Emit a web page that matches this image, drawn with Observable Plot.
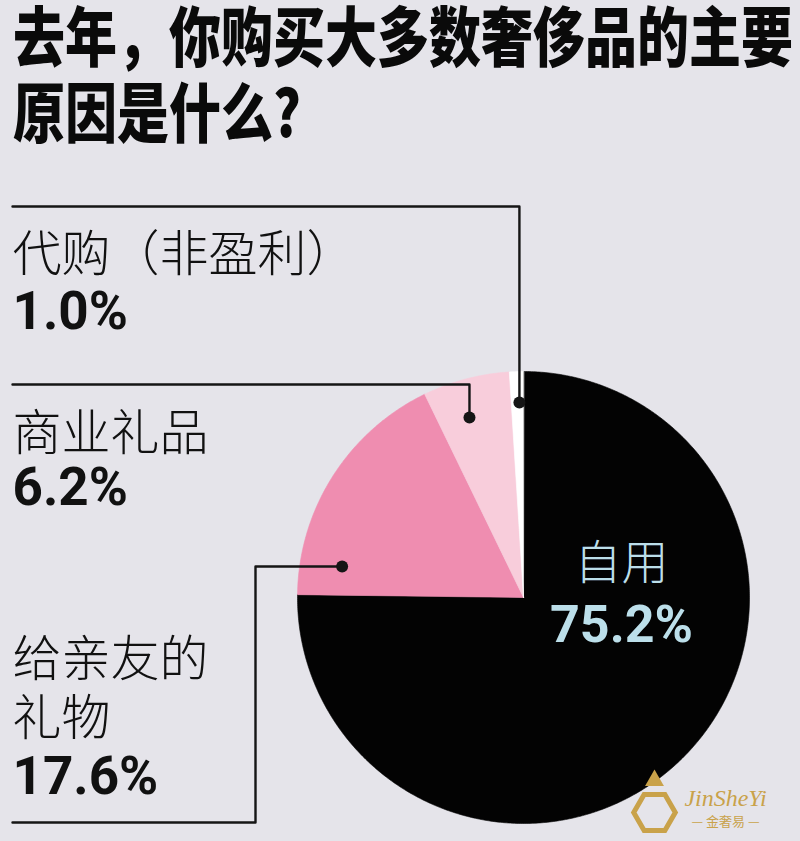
<!DOCTYPE html>
<html>
<head>
<meta charset="utf-8">
<script src="https://cdn.jsdelivr.net/npm/d3@7"></script>
<script src="https://cdn.jsdelivr.net/npm/@observablehq/plot@0.6"></script>
<style>
  html, body { margin: 0; padding: 0; background: #e5e4ea; }
  #wrap { width: 800px; height: 841px; overflow: hidden; background: #e5e4ea; }
  #title { position: relative; width: 800px; height: 150px; }
  #title div {
    position: absolute; left: 13px; white-space: nowrap;
    font-family: "Noto Sans CJK SC", sans-serif; font-weight: 900;
    font-size: 52px; line-height: 52px; color: #0a0a0a;
    transform: scaleY(1.24); transform-origin: 0 50%;
  }
  svg { display: block; }
</style>
</head>
<body>
<div id="wrap">
  <div id="title"><div id="t1"></div><div id="t2"></div></div>
  <div id="chart"></div>
</div>
<script>
// ---- data ----
const titleLines = ["去年，你购买大多数奢侈品的主要", "原因是什么?"];
const categories = ["自用", "给亲友的礼物", "商业礼品", "代购（非盈利）"];
const shares = [75.2, 17.6, 6.2, 1.0];
const sliceColors = ["#030303", "#ef8db0", "#f8cddb", "#ffffff"];
const labelNames = [["自用"], ["给亲友的", "礼物"], ["商业礼品"], ["代购（非盈利）"]];
const watermark = ["JinSheYi", "— 金奢易 —"];

// ---- layout (page pixel coordinates) ----
const W = 800, H = 841, TOP = 150;
const cx = 523, cy = 597, R = 226;
const labelLayout = [
  {inside: true, x: 621, nameY: [563], valueY: 625},
  {x: 12, nameY: [660, 719], valueY: 777},
  {x: 12, nameY: [434], valueY: 488},
  {x: 12, nameY: [255], valueY: 312}
];
const callouts = [
  null,
  {angle: 279.7, r: 184, elbowX: 255, baseY: 822},
  {angle: 343.3, r: 188, lineY: 384},
  {angle: 358.8, r: 195, lineY: 206}
];

document.getElementById("t1").textContent = titleLines[0];
document.getElementById("t2").textContent = titleLines[1];
document.getElementById("t1").style.top = "8px";
document.getElementById("t2").style.top = "84px";

const data = categories.map((c, i) => ({category: c, share: shares[i], color: sliceColors[i], i}));
const arcs = d3.pie().sort(null).value(d => d.share)(data);
const pt = (a, r) => ({x: cx + r * Math.sin(a), y: cy - r * Math.cos(a)});

const slicePts = [];
arcs.forEach(a => {
  const n = Math.max(2, Math.ceil((a.endAngle - a.startAngle) / (Math.PI / 360)));
  slicePts.push({k: a.data.i, ...pt(0, 0)});
  for (let j = 0; j <= n; j++) {
    const ang = a.startAngle + (a.endAngle - a.startAngle) * j / n;
    slicePts.push({k: a.data.i, ...pt(ang, R)});
  }
});
const sliceMarks = data.map(d =>
  Plot.line(slicePts.filter(p => p.k === d.i), {
    x: "x", y: "y", fill: d.color, stroke: d.color, strokeWidth: 0.6, curve: "linear-closed"
  })
);

const leaderPts = [];
const dots = [];
callouts.forEach((c, i) => {
  if (!c) return;
  const d = pt(c.angle * Math.PI / 180, c.r);
  dots.push(d);
  if (c.lineY !== undefined) {
    [[12, c.lineY], [d.x, c.lineY], [d.x, d.y]].forEach(([x, y]) => leaderPts.push({k: i, x, y}));
  } else {
    [[12, c.baseY], [c.elbowX, c.baseY], [c.elbowX, d.y], [d.x, d.y]].forEach(([x, y]) => leaderPts.push({k: i, x, y}));
  }
});

const nameRows = [], valueRows = [];
labelLayout.forEach((L, i) => {
  labelNames[i].forEach((t, j) => nameRows.push({x: L.x, y: L.nameY[j], text: t, inside: !!L.inside}));
  valueRows.push({x: L.x, y: L.valueY, text: shares[i].toFixed(1) + "%", inside: !!L.inside});
});

const cjk = "'Noto Sans CJK SC', sans-serif";
const gold = "#c9a24a";
const chart = Plot.plot({
  width: W, height: H - TOP,
  margin: 0,
  style: {background: "#e5e4ea", overflow: "visible"},
  x: {domain: [0, W], range: [0, W], axis: null},
  y: {domain: [TOP, H], range: [0, H - TOP], axis: null},
  marks: [
    ...sliceMarks,
    Plot.line(leaderPts, {x: "x", y: "y", z: "k", stroke: "#151515", strokeWidth: 2.4}),
    Plot.dot(dots, {x: "x", y: "y", r: 6, fill: "#151515"}),
    Plot.text(nameRows.filter(d => !d.inside), {x: "x", y: "y", text: "text", fill: "#111", textAnchor: "start",
      fontSize: 49, fontWeight: 300, fontFamily: cjk}),
    Plot.text(valueRows.filter(d => !d.inside), {x: "x", y: "y", text: "text", fill: "#111", textAnchor: "start",
      fontSize: 53, fontWeight: 700, fontFamily: "Roboto, sans-serif"}),
    Plot.text(nameRows.filter(d => d.inside), {x: "x", y: "y", text: "text", fill: "#bcdfea", textAnchor: "middle",
      fontSize: 47, fontWeight: 300, fontFamily: cjk}),
    Plot.text(valueRows.filter(d => d.inside), {x: "x", y: "y", text: "text", fill: "#bcdfea", textAnchor: "middle",
      fontSize: 52, fontWeight: 700, fontFamily: "Roboto, sans-serif"}),
    // watermark
    Plot.dot([{x: 654, y: 812}], {x: "x", y: "y", symbol: "hexagon", r: 18, rotate: 90, stroke: gold, strokeWidth: 5, fill: "none"}),
    Plot.dot([{x: 654, y: 780}], {x: "x", y: "y", symbol: "triangle", r: 7, fill: gold}),
    Plot.text([{x: 725, y: 798, t: watermark[0]}], {x: "x", y: "y", text: "t", fill: gold, textAnchor: "middle",
      fontSize: 24, fontStyle: "italic", fontFamily: "'Liberation Serif', serif"}),
    Plot.text([{x: 725, y: 821, t: watermark[1]}], {x: "x", y: "y", text: "t", fill: gold, textAnchor: "middle",
      fontSize: 13, fontFamily: cjk})
  ]
});
document.getElementById("chart").appendChild(chart);
</script>
</body>
</html>
